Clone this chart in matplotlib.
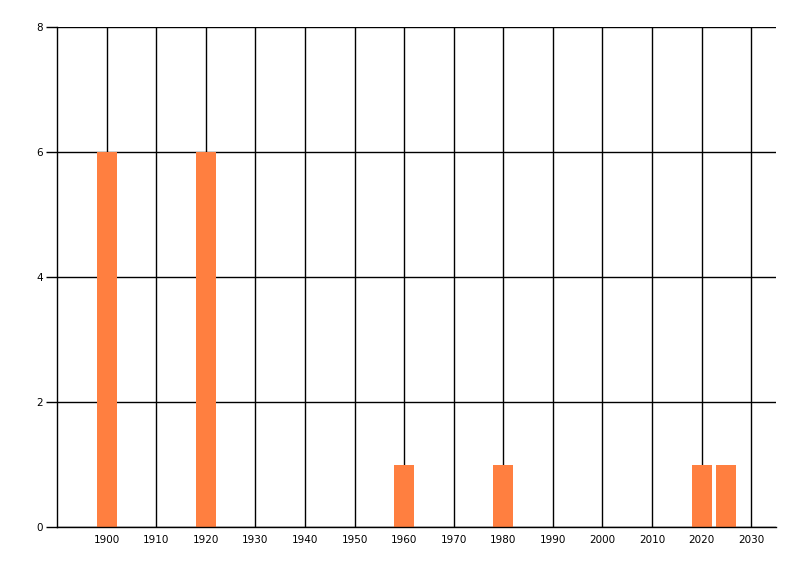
import matplotlib
matplotlib.use('Agg')
import matplotlib.pyplot as plt

years = [1900, 1920, 1960, 1980, 2020, 2025]
counts = [6, 6, 1, 1, 1, 1]
xticks = list(range(1900, 2031, 10))
yticks = [0, 2, 4, 6, 8]

fig = plt.figure(figsize=(8, 5.76), dpi=100)
ax = fig.add_axes([57 / 800, 1 - 527 / 576, (776 - 57) / 800, (527 - 27) / 576])

ax.bar(years, counts, width=4, color='#ff7f40', zorder=2)

ax.set_xlim(1890, 2035)
ax.set_ylim(0, 8)
ax.set_xticks(xticks)
ax.set_yticks(yticks)
ax.set_xticklabels([str(t) for t in xticks])
ax.grid(True, color='black', linewidth=1.0, zorder=0)
ax.set_axisbelow(True)

for s in ['top', 'right']:
    ax.spines[s].set_visible(False)
for s in ['left', 'bottom']:
    ax.spines[s].set_linewidth(1.0)

ax.tick_params(axis='y', length=8, width=1, pad=2, labelsize=7.5)
ax.tick_params(axis='x', length=0, pad=6, labelsize=7.5)

fig.savefig('out.png', dpi=100)
